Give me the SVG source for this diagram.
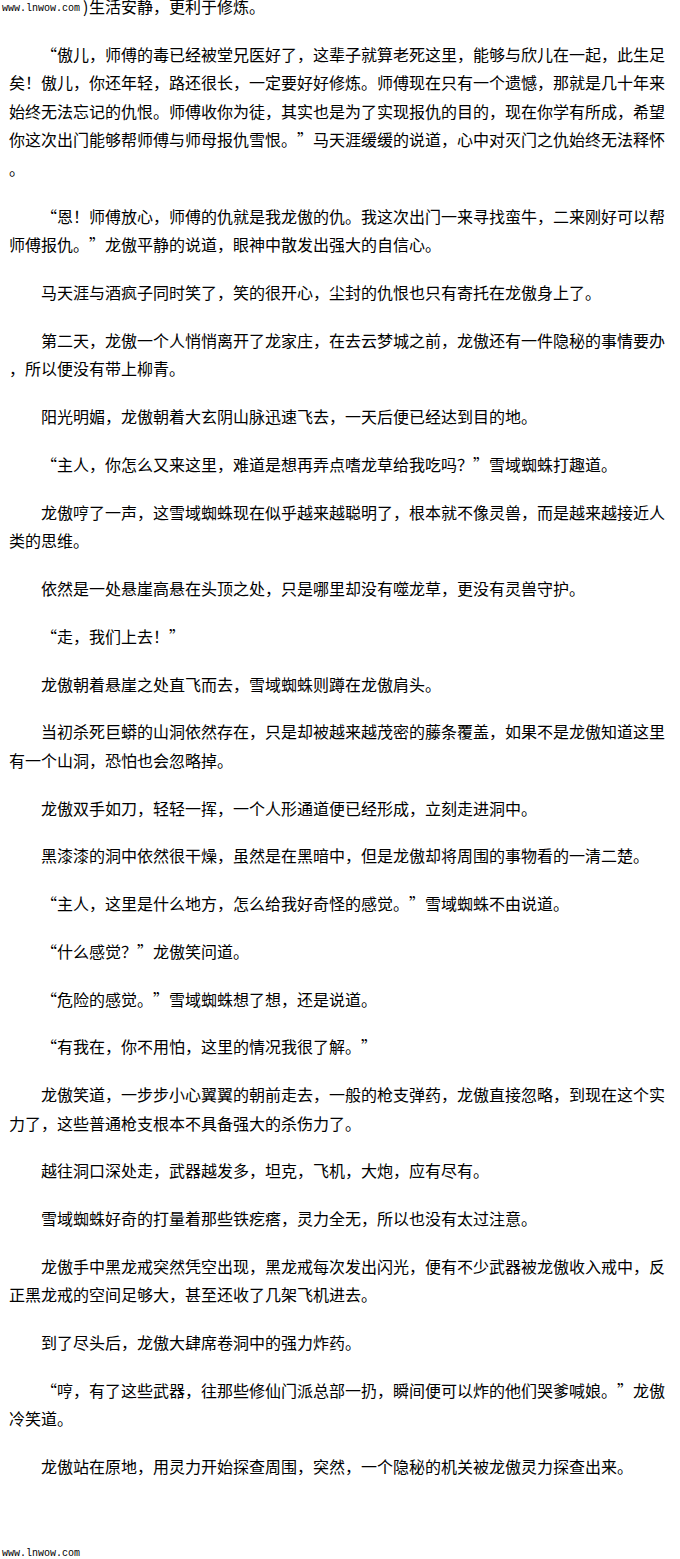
<svg xmlns="http://www.w3.org/2000/svg" width="680" height="1559" viewBox="0 0 680 1559">
<style>
.t{font-family:"Noto Sans CJK SC","Noto Sans CJK JP",sans-serif;font-size:16px;fill:#000}
.w{font-family:"Liberation Mono",monospace;font-size:10px;fill:#000}
</style>
<rect width="680" height="1559" fill="#fff"/>
<g id="page">
<text class="w" x="2" y="11">www.lnwow.com</text>
<text class="t" x="83 89 105 121 137 153 169 185 201 217 233 249" y="13">)生活安静，更利于修炼。</text>

<text class="t" y="61" x="41 57 73 89 105 121 137 153 169 185 201 217 233 249 265 281 297 313 329 345 361 377 393 409 425 441 457 473 489 505 521 537 553 569 585 601 617 633 649">“傲儿，师傅的毒已经被堂兄医好了，这辈子就算老死这里，能够与欣儿在一起，此生足</text>
<text class="t" y="89" x="9 25 41 57 73 89 105 121 137 153 169 185 201 217 233 249 265 281 297 313 329 345 361 377 393 409 425 441 457 473 489 505 521 537 553 569 585 601 617 633 649">矣！傲儿，你还年轻，路还很长，一定要好好修炼。师傅现在只有一个遗憾，那就是几十年来</text>
<text class="t" y="118" x="9 25 41 57 73 89 105 121 137 153 169 185 201 217 233 249 265 281 297 313 329 345 361 377 393 409 425 441 457 473 489 505 521 537 553 569 585 601 617 633 649">始终无法忘记的仇恨。师傅收你为徒，其实也是为了实现报仇的目的，现在你学有所成，希望</text>
<text class="t" y="146" x="9 25 41 57 73 89 105 121 137 153 169 185 201 217 233 249 265 281 297 313 329 345 361 377 393 409 425 441 457 473 489 505 521 537 553 569 585 601 617 633 649">你这次出门能够帮师傅与师母报仇雪恨。”马天涯缓缓的说道，心中对灭门之仇始终无法释怀</text>
<text class="t" y="175" x="9">。</text>

<text class="t" y="223" x="41 57 73 89 105 121 137 153 169 185 201 217 233 249 265 281 297 313 329 345 361 377 393 409 425 441 457 473 489 505 521 537 553 569 585 601 617 633 649">“恩！师傅放心，师傅的仇就是我龙傲的仇。我这次出门一来寻找蛮牛，二来刚好可以帮</text>
<text class="t" y="251" x="9 25 41 57 73 89 105 121 137 153 169 185 201 217 233 249 265 281 297 313 329 345 361 377 393 409 425 441 457 473 489 505 521 537 553 569 585 601 617 633 649">师傅报仇。”龙傲平静的说道，眼神中散发出强大的自信心。</text>

<text class="t" y="299" x="41 57 73 89 105 121 137 153 169 185 201 217 233 249 265 281 297 313 329 345 361 377 393 409 425 441 457 473 489 505 521 537 553 569 585 601 617 633 649">马天涯与酒疯子同时笑了，笑的很开心，尘封的仇恨也只有寄托在龙傲身上了。</text>

<text class="t" y="347" x="41 57 73 89 105 121 137 153 169 185 201 217 233 249 265 281 297 313 329 345 361 377 393 409 425 441 457 473 489 505 521 537 553 569 585 601 617 633 649">第二天，龙傲一个人悄悄离开了龙家庄，在去云梦城之前，龙傲还有一件隐秘的事情要办</text>
<text class="t" y="375" x="9 25 41 57 73 89 105 121 137 153 169 185 201 217 233 249 265 281 297 313 329 345 361 377 393 409 425 441 457 473 489 505 521 537 553 569 585 601 617 633 649">，所以便没有带上柳青。</text>

<text class="t" y="423" x="41 57 73 89 105 121 137 153 169 185 201 217 233 249 265 281 297 313 329 345 361 377 393 409 425 441 457 473 489 505 521 537 553 569 585 601 617 633 649">阳光明媚，龙傲朝着大玄阴山脉迅速飞去，一天后便已经达到目的地。</text>

<text class="t" y="471" x="41 57 73 89 105 121 137 153 169 185 201 217 233 249 265 281 297 313 329 345 361 377 393 409 425 441 457 473 489 505 521 537 553 569 585 601 617 633 649">“主人，你怎么又来这里，难道是想再弄点嗜龙草给我吃吗？”雪域蜘蛛打趣道。</text>

<text class="t" y="519" x="41 57 73 89 105 121 137 153 169 185 201 217 233 249 265 281 297 313 329 345 361 377 393 409 425 441 457 473 489 505 521 537 553 569 585 601 617 633 649">龙傲哼了一声，这雪域蜘蛛现在似乎越来越聪明了，根本就不像灵兽，而是越来越接近人</text>
<text class="t" y="547" x="9 25 41 57 73 89 105 121 137 153 169 185 201 217 233 249 265 281 297 313 329 345 361 377 393 409 425 441 457 473 489 505 521 537 553 569 585 601 617 633 649">类的思维。</text>

<text class="t" y="595" x="41 57 73 89 105 121 137 153 169 185 201 217 233 249 265 281 297 313 329 345 361 377 393 409 425 441 457 473 489 505 521 537 553 569 585 601 617 633 649">依然是一处悬崖高悬在头顶之处，只是哪里却没有噬龙草，更没有灵兽守护。</text>

<text class="t" y="643" x="41 57 73 89 105 121 137 153 169 185 201 217 233 249 265 281 297 313 329 345 361 377 393 409 425 441 457 473 489 505 521 537 553 569 585 601 617 633 649">“走，我们上去！”</text>

<text class="t" y="691" x="41 57 73 89 105 121 137 153 169 185 201 217 233 249 265 281 297 313 329 345 361 377 393 409 425 441 457 473 489 505 521 537 553 569 585 601 617 633 649">龙傲朝着悬崖之处直飞而去，雪域蜘蛛则蹲在龙傲肩头。</text>

<text class="t" y="738" x="41 57 73 89 105 121 137 153 169 185 201 217 233 249 265 281 297 313 329 345 361 377 393 409 425 441 457 473 489 505 521 537 553 569 585 601 617 633 649">当初杀死巨蟒的山洞依然存在，只是却被越来越茂密的藤条覆盖，如果不是龙傲知道这里</text>
<text class="t" y="767" x="9 25 41 57 73 89 105 121 137 153 169 185 201 217 233 249 265 281 297 313 329 345 361 377 393 409 425 441 457 473 489 505 521 537 553 569 585 601 617 633 649">有一个山洞，恐怕也会忽略掉。</text>

<text class="t" y="815" x="41 57 73 89 105 121 137 153 169 185 201 217 233 249 265 281 297 313 329 345 361 377 393 409 425 441 457 473 489 505 521 537 553 569 585 601 617 633 649">龙傲双手如刀，轻轻一挥，一个人形通道便已经形成，立刻走进洞中。</text>

<text class="t" y="862" x="41 57 73 89 105 121 137 153 169 185 201 217 233 249 265 281 297 313 329 345 361 377 393 409 425 441 457 473 489 505 521 537 553 569 585 601 617 633 649">黑漆漆的洞中依然很干燥，虽然是在黑暗中，但是龙傲却将周围的事物看的一清二楚。</text>

<text class="t" y="910" x="41 57 73 89 105 121 137 153 169 185 201 217 233 249 265 281 297 313 329 345 361 377 393 409 425 441 457 473 489 505 521 537 553 569 585 601 617 633 649">“主人，这里是什么地方，怎么给我好奇怪的感觉。”雪域蜘蛛不由说道。</text>

<text class="t" y="958" x="41 57 73 89 105 121 137 153 169 185 201 217 233 249 265 281 297 313 329 345 361 377 393 409 425 441 457 473 489 505 521 537 553 569 585 601 617 633 649">“什么感觉？”龙傲笑问道。</text>

<text class="t" y="1006" x="41 57 73 89 105 121 137 153 169 185 201 217 233 249 265 281 297 313 329 345 361 377 393 409 425 441 457 473 489 505 521 537 553 569 585 601 617 633 649">“危险的感觉。”雪域蜘蛛想了想，还是说道。</text>

<text class="t" y="1053" x="41 57 73 89 105 121 137 153 169 185 201 217 233 249 265 281 297 313 329 345 361 377 393 409 425 441 457 473 489 505 521 537 553 569 585 601 617 633 649">“有我在，你不用怕，这里的情况我很了解。”</text>

<text class="t" y="1101" x="41 57 73 89 105 121 137 153 169 185 201 217 233 249 265 281 297 313 329 345 361 377 393 409 425 441 457 473 489 505 521 537 553 569 585 601 617 633 649">龙傲笑道，一步步小心翼翼的朝前走去，一般的枪支弹药，龙傲直接忽略，到现在这个实</text>
<text class="t" y="1130" x="9 25 41 57 73 89 105 121 137 153 169 185 201 217 233 249 265 281 297 313 329 345 361 377 393 409 425 441 457 473 489 505 521 537 553 569 585 601 617 633 649">力了，这些普通枪支根本不具备强大的杀伤力了。</text>

<text class="t" y="1177" x="41 57 73 89 105 121 137 153 169 185 201 217 233 249 265 281 297 313 329 345 361 377 393 409 425 441 457 473 489 505 521 537 553 569 585 601 617 633 649">越往洞口深处走，武器越发多，坦克，飞机，大炮，应有尽有。</text>

<text class="t" y="1225" x="41 57 73 89 105 121 137 153 169 185 201 217 233 249 265 281 297 313 329 345 361 377 393 409 425 441 457 473 489 505 521 537 553 569 585 601 617 633 649">雪域蜘蛛好奇的打量着那些铁疙瘩，灵力全无，所以也没有太过注意。</text>

<text class="t" y="1273" x="41 57 73 89 105 121 137 153 169 185 201 217 233 249 265 281 297 313 329 345 361 377 393 409 425 441 457 473 489 505 521 537 553 569 585 601 617 633 649">龙傲手中黑龙戒突然凭空出现，黑龙戒每次发出闪光，便有不少武器被龙傲收入戒中，反</text>
<text class="t" y="1301" x="9 25 41 57 73 89 105 121 137 153 169 185 201 217 233 249 265 281 297 313 329 345 361 377 393 409 425 441 457 473 489 505 521 537 553 569 585 601 617 633 649">正黑龙戒的空间足够大，甚至还收了几架飞机进去。</text>

<text class="t" y="1349" x="41 57 73 89 105 121 137 153 169 185 201 217 233 249 265 281 297 313 329 345 361 377 393 409 425 441 457 473 489 505 521 537 553 569 585 601 617 633 649">到了尽头后，龙傲大肆席卷洞中的强力炸药。</text>

<text class="t" y="1397" x="41 57 73 89 105 121 137 153 169 185 201 217 233 249 265 281 297 313 329 345 361 377 393 409 425 441 457 473 489 505 521 537 553 569 585 601 617 633 649">“哼，有了这些武器，往那些修仙门派总部一扔，瞬间便可以炸的他们哭爹喊娘。”龙傲</text>
<text class="t" y="1425" x="9 25 41 57 73 89 105 121 137 153 169 185 201 217 233 249 265 281 297 313 329 345 361 377 393 409 425 441 457 473 489 505 521 537 553 569 585 601 617 633 649">冷笑道。</text>

<text class="t" y="1473" x="41 57 73 89 105 121 137 153 169 185 201 217 233 249 265 281 297 313 329 345 361 377 393 409 425 441 457 473 489 505 521 537 553 569 585 601 617 633 649">龙傲站在原地，用灵力开始探查周围，突然，一个隐秘的机关被龙傲灵力探查出来。</text>

<text class="w" x="2" y="1556">www.lnwow.com</text>
</g>
</svg>
